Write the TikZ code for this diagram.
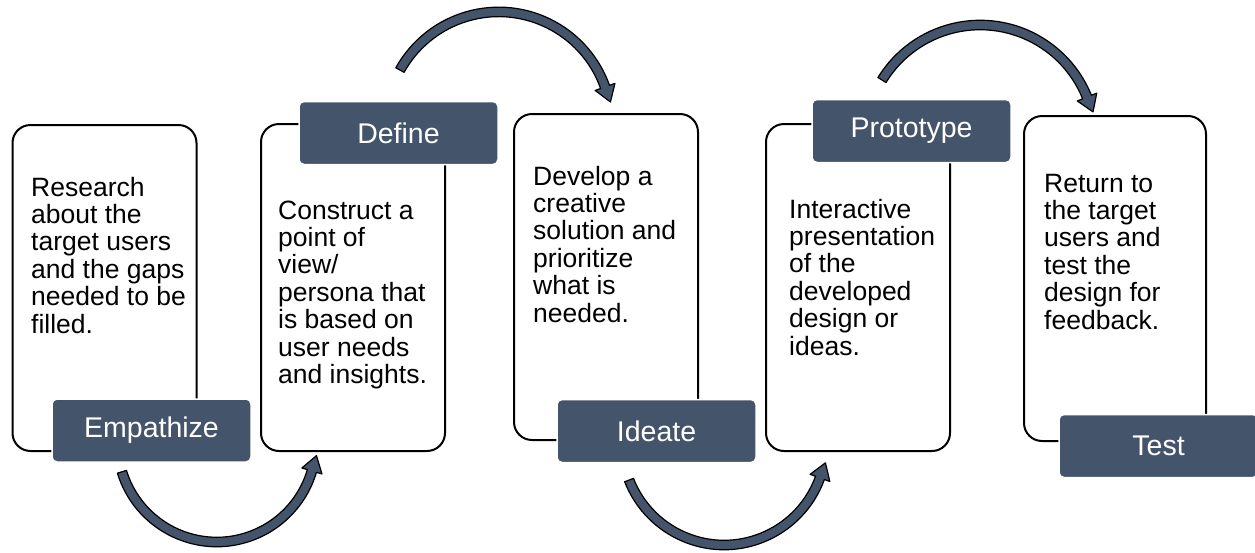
\documentclass[tikz,border=0pt]{standalone}
\usepackage{fontspec}
\setmainfont{Liberation Sans}
\usetikzlibrary{calc}
\definecolor{slate}{HTML}{44546A}

% curved block arrow around a centre: #1 centre, #2 radius,
% #3 tail angle, #4 head angle, #5 sweep sign (+1 or -1)
\newcommand{\sweeparrow}[5]{%
  \pgfmathsetmacro\rOut{#2+4.75}%
  \pgfmathsetmacro\rIn{#2-4.75}%
  \pgfmathsetmacro\rWo{#2+10.5}%
  \pgfmathsetmacro\rWi{#2-10.5}%
  \pgfmathsetmacro\aTip{#4+#5*90}%
  \filldraw[bentarrow]
    ($(#1)+(#3:\rOut)$) arc[start angle=#3, end angle=#4, radius=\rOut]
    -- ($(#1)+(#4:\rWo)$)
    -- ($(#1)+(#4:#2)+(\aTip:16)$)
    -- ($(#1)+(#4:\rWi)$)
    -- ($(#1)+(#4:\rIn)$)
    arc[start angle=#4, end angle=#3, radius=\rIn] -- cycle;
}

\begin{document}
\begin{tikzpicture}[x=1pt,y=-1pt,
  card/.style={draw=black, line width=2pt, rounded corners=18pt, fill=white, inner sep=0pt},
  tag/.style={fill=slate, draw=white, line width=1.5pt, rounded corners=5pt,
    minimum width=199pt, minimum height=63pt, inner sep=0pt,
    text=white, font=\fontsize{28.5}{32}\selectfont},
  body/.style={anchor=base west, inner sep=0pt, font=\fontsize{26.5}{27.4}\selectfont},
  bentarrow/.style={fill=slate, draw=black, line width=1.2pt, line join=round}]

\useasboundingbox (0,0) rectangle (1255,552);

% stage cards
\node[card, minimum width=184pt, minimum height=326pt] (box1) at (104.5,288) {};
\node[card, minimum width=184pt, minimum height=327pt] (box2) at (353,287.5) {};
\node[card, minimum width=184pt, minimum height=326pt] (box3) at (606,277) {};
\node[card, minimum width=184pt, minimum height=327pt] (box4) at (858,287.5) {};
\node[card, minimum width=182pt, minimum height=325pt] (box5) at (1115,278.5) {};

% stage names
\node[tag] (tag1) at (151.5,430.5) {Empathize};
\node[tag] (tag2) at (398.5,133) {Define};
\node[tag] (tag3) at (656.5,431) {Ideate};
\node[tag] (tag4) at (911.5,131) {Prototype};
\node[tag] (tag5) at (1158.5,446) {Test};

% descriptions
\node[body] (txt1) at (31,196) {\parbox[t]{170pt}{\raggedright
  Research\\about the\\target users\\and the gaps\\needed to be\\filled.}};
\node[body] (txt2) at (278,219) {\parbox[t]{170pt}{\raggedright
  Construct a\\point of\\view/\\persona that\\is based on\\user needs\\and insights.}};
\node[body] (txt3) at (533,185) {\parbox[t]{170pt}{\raggedright
  Develop a\\creative\\solution and\\prioritize\\what is\\needed.}};
\node[body] (txt4) at (789,218) {\parbox[t]{170pt}{\raggedright
  Interactive\\presentation\\of the\\developed\\design or\\ideas.}};
\node[body] (txt5) at (1044,192) {\parbox[t]{170pt}{\raggedright
  Return to\\the target\\users and\\test the\\design for\\feedback.}};

% flow arrows between stages
\coordinate (arc1) at (216.8,442.8);
\coordinate (arc2) at (498.7,124.8);
\coordinate (arc3) at (724.1,443);
\coordinate (arc4) at (980.2,140.2);
\sweeparrow{arc1}{99.2}{163}{16.5}{-1}
\sweeparrow{arc2}{112.9}{209}{340.4}{1}
\sweeparrow{arc3}{102}{158.7}{20}{-1}
\sweeparrow{arc4}{115.2}{211.5}{338}{1}

\end{tikzpicture}
\end{document}
